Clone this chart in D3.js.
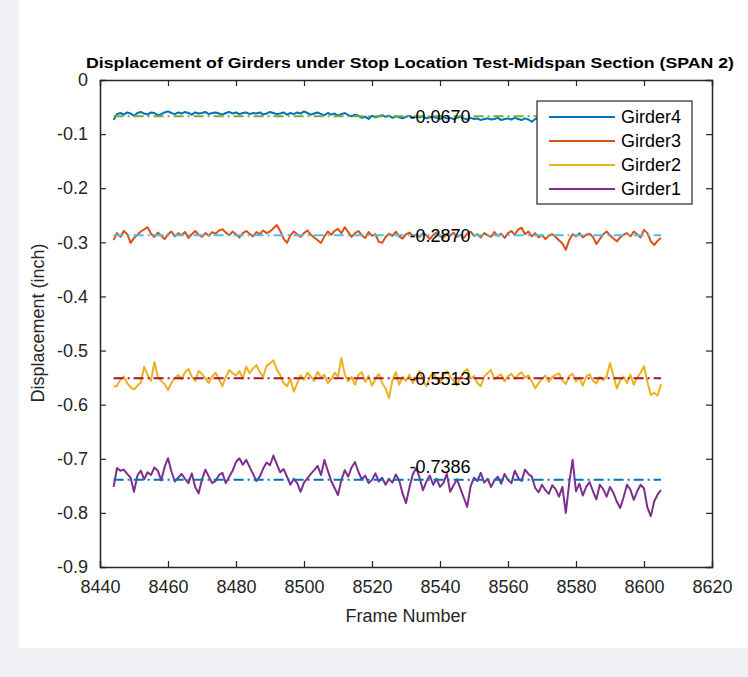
<!DOCTYPE html>
<html><head><meta charset="utf-8">
<script src="https://cdn.jsdelivr.net/npm/d3@7"></script>
<style>body{margin:0;background:#eff1f4;}svg{display:block;}</style>
</head><body>
<svg id="chart" width="748" height="677"></svg>
<script>
const startFrame = 8444;
const girder4 = [-0.074,-0.063,-0.061,-0.064,-0.060,-0.062,-0.066,-0.061,-0.059,-0.062,
-0.064,-0.060,-0.061,-0.065,-0.063,-0.060,-0.058,-0.061,-0.063,-0.060,
-0.062,-0.059,-0.061,-0.064,-0.060,-0.062,-0.061,-0.059,-0.063,-0.061,
-0.060,-0.062,-0.064,-0.061,-0.059,-0.062,-0.060,-0.063,-0.061,-0.060,
-0.063,-0.061,-0.062,-0.060,-0.064,-0.062,-0.059,-0.061,-0.063,-0.062,
-0.060,-0.064,-0.061,-0.063,-0.060,-0.062,-0.058,-0.061,-0.064,-0.062,
-0.060,-0.063,-0.065,-0.061,-0.064,-0.062,-0.066,-0.063,-0.061,-0.065,
-0.067,-0.064,-0.066,-0.070,-0.068,-0.072,-0.066,-0.069,-0.067,-0.065,
-0.068,-0.066,-0.070,-0.067,-0.069,-0.071,-0.068,-0.066,-0.070,-0.068,
-0.069,-0.067,-0.071,-0.069,-0.068,-0.070,-0.072,-0.069,-0.071,-0.070,
-0.072,-0.070,-0.068,-0.071,-0.073,-0.070,-0.072,-0.071,-0.074,-0.072,
-0.071,-0.073,-0.072,-0.070,-0.074,-0.072,-0.071,-0.073,-0.070,-0.072,
-0.074,-0.071,-0.073,-0.077,-0.072,-0.070,-0.073,-0.071,-0.072,-0.074,
-0.073,-0.071,-0.072,-0.074,-0.070,-0.073,-0.072,-0.071,-0.073,-0.072,
-0.071,-0.073,-0.072,-0.070,-0.072,-0.074,-0.071,-0.073,-0.072,-0.070,
-0.072,-0.073,-0.071,-0.074,-0.072,-0.070,-0.073,-0.071,-0.072,-0.073,
-0.071,-0.072];
const girder3 = [-0.296,-0.283,-0.290,-0.279,-0.285,-0.301,-0.292,-0.286,-0.280,-0.276,
-0.272,-0.284,-0.290,-0.282,-0.288,-0.294,-0.285,-0.280,-0.289,-0.283,
-0.287,-0.281,-0.292,-0.285,-0.279,-0.286,-0.290,-0.283,-0.288,-0.281,
-0.284,-0.278,-0.276,-0.282,-0.287,-0.280,-0.285,-0.291,-0.283,-0.279,
-0.284,-0.289,-0.281,-0.285,-0.278,-0.283,-0.280,-0.274,-0.268,-0.279,
-0.293,-0.301,-0.287,-0.280,-0.285,-0.290,-0.283,-0.278,-0.286,-0.291,
-0.296,-0.301,-0.289,-0.280,-0.286,-0.279,-0.275,-0.283,-0.272,-0.281,
-0.290,-0.283,-0.279,-0.287,-0.292,-0.281,-0.288,-0.285,-0.299,-0.301,
-0.290,-0.284,-0.288,-0.280,-0.289,-0.293,-0.285,-0.282,-0.288,-0.286,
-0.290,-0.283,-0.287,-0.294,-0.286,-0.282,-0.289,-0.291,-0.284,-0.288,
-0.282,-0.290,-0.286,-0.292,-0.284,-0.280,-0.288,-0.285,-0.291,-0.283,
-0.287,-0.290,-0.281,-0.288,-0.284,-0.292,-0.283,-0.279,-0.286,-0.276,
-0.273,-0.285,-0.280,-0.289,-0.283,-0.291,-0.286,-0.294,-0.288,-0.285,
-0.290,-0.296,-0.302,-0.314,-0.296,-0.285,-0.289,-0.283,-0.291,-0.286,
-0.284,-0.290,-0.303,-0.294,-0.285,-0.280,-0.287,-0.293,-0.298,-0.291,
-0.286,-0.283,-0.289,-0.280,-0.285,-0.291,-0.277,-0.283,-0.298,-0.305,
-0.297,-0.292];
const girder2 = [-0.567,-0.565,-0.554,-0.548,-0.560,-0.568,-0.572,-0.565,-0.559,-0.530,
-0.545,-0.556,-0.521,-0.548,-0.556,-0.562,-0.573,-0.560,-0.551,-0.545,
-0.553,-0.540,-0.534,-0.548,-0.556,-0.538,-0.543,-0.552,-0.560,-0.548,
-0.541,-0.553,-0.566,-0.549,-0.536,-0.542,-0.546,-0.538,-0.552,-0.530,
-0.542,-0.533,-0.527,-0.540,-0.548,-0.528,-0.524,-0.518,-0.535,-0.545,
-0.560,-0.566,-0.552,-0.576,-0.560,-0.546,-0.554,-0.541,-0.548,-0.556,
-0.539,-0.550,-0.545,-0.560,-0.553,-0.541,-0.548,-0.514,-0.544,-0.557,
-0.549,-0.563,-0.545,-0.540,-0.558,-0.547,-0.565,-0.552,-0.543,-0.560,
-0.570,-0.588,-0.555,-0.540,-0.563,-0.548,-0.556,-0.545,-0.560,-0.550,
-0.538,-0.555,-0.566,-0.549,-0.541,-0.552,-0.560,-0.546,-0.538,-0.548,
-0.556,-0.565,-0.550,-0.540,-0.534,-0.552,-0.547,-0.560,-0.566,-0.548,
-0.542,-0.536,-0.553,-0.548,-0.544,-0.557,-0.547,-0.543,-0.552,-0.545,
-0.540,-0.550,-0.546,-0.557,-0.570,-0.560,-0.552,-0.546,-0.558,-0.549,
-0.545,-0.542,-0.555,-0.562,-0.547,-0.543,-0.557,-0.550,-0.565,-0.548,
-0.544,-0.556,-0.561,-0.549,-0.555,-0.548,-0.523,-0.546,-0.570,-0.555,
-0.548,-0.560,-0.545,-0.563,-0.550,-0.541,-0.529,-0.558,-0.582,-0.578,
-0.583,-0.562];
const girder1 = [-0.752,-0.717,-0.722,-0.720,-0.728,-0.735,-0.761,-0.731,-0.722,-0.738,
-0.725,-0.730,-0.716,-0.722,-0.740,-0.715,-0.699,-0.723,-0.742,-0.735,
-0.728,-0.737,-0.745,-0.727,-0.752,-0.764,-0.738,-0.720,-0.733,-0.745,
-0.741,-0.730,-0.726,-0.745,-0.733,-0.722,-0.706,-0.699,-0.711,-0.702,
-0.715,-0.728,-0.741,-0.733,-0.718,-0.707,-0.712,-0.694,-0.710,-0.725,
-0.719,-0.733,-0.748,-0.737,-0.745,-0.761,-0.744,-0.736,-0.728,-0.721,
-0.713,-0.730,-0.702,-0.722,-0.741,-0.754,-0.767,-0.739,-0.721,-0.733,
-0.716,-0.706,-0.724,-0.738,-0.731,-0.745,-0.739,-0.727,-0.742,-0.735,
-0.748,-0.737,-0.744,-0.729,-0.740,-0.764,-0.782,-0.753,-0.729,-0.717,
-0.735,-0.758,-0.742,-0.731,-0.748,-0.737,-0.752,-0.745,-0.728,-0.761,
-0.749,-0.738,-0.755,-0.772,-0.789,-0.751,-0.735,-0.741,-0.726,-0.744,
-0.737,-0.752,-0.740,-0.733,-0.746,-0.728,-0.739,-0.745,-0.722,-0.735,
-0.741,-0.720,-0.728,-0.733,-0.754,-0.762,-0.748,-0.758,-0.765,-0.749,
-0.756,-0.770,-0.752,-0.800,-0.745,-0.702,-0.760,-0.746,-0.768,-0.752,
-0.743,-0.760,-0.775,-0.748,-0.756,-0.770,-0.752,-0.763,-0.779,-0.791,
-0.771,-0.748,-0.757,-0.776,-0.760,-0.748,-0.755,-0.790,-0.806,-0.779,
-0.766,-0.758];
const seriesNames = ["Girder4","Girder3","Girder2","Girder1"];
const seriesColors = ["#0072BD","#D95319","#EDB120","#7E2F8E"];
const meanValues = [-0.0670,-0.2870,-0.5513,-0.7386];
const meanLabels = ["-0.0670","-0.2870","-0.5513","-0.7386"];
const meanColors = ["#77AC30","#4DBEEE","#A2142F","#0072BD"];
const labelFrame = 8531;
const labelY = [-0.067,-0.287,-0.5513,-0.715];
const xTicks = [8440,8460,8480,8500,8520,8540,8560,8580,8600,8620];
const yTicks = [0,-0.1,-0.2,-0.3,-0.4,-0.5,-0.6,-0.7,-0.8,-0.9];
const yTickLabels = ["0","-0.1","-0.2","-0.3","-0.4","-0.5","-0.6","-0.7","-0.8","-0.9"];

const svg = d3.select("#chart");
svg.append("rect").attr("x",19).attr("y",0).attr("width",729).attr("height",648).attr("fill","#ffffff");

const L=100,R=712,T=80,B=567;
const x = d3.scaleLinear().domain([8440,8620]).range([L,R]);
const y = d3.scaleLinear().domain([-0.9,0]).range([B,T]);
const font = "'Liberation Sans', Arial, sans-serif";
const axisColor = "#262626";

const allSeries = [girder4,girder3,girder2,girder1];
const lineGen = d3.line().x((d,i)=>x(startFrame+i)).y(d=>y(d));
const endFrame = startFrame + girder1.length - 1;

const plot = svg.append("g");
allSeries.forEach((s,k)=>{
  plot.append("path").datum(s).attr("d",lineGen).attr("fill","none")
    .attr("stroke",seriesColors[k]).attr("stroke-width",2).attr("stroke-linejoin","round");
  plot.append("line").attr("x1",x(startFrame)).attr("x2",x(endFrame))
    .attr("y1",y(meanValues[k])).attr("y2",y(meanValues[k]))
    .attr("stroke",meanColors[k]).attr("stroke-width",2).attr("stroke-dasharray","10,4,2,4");
});
meanLabels.forEach((t,k)=>{
  plot.append("text").attr("x",x(labelFrame)).attr("y",y(labelY[k])).attr("dy","0.35em")
    .attr("font-family",font).attr("font-size",18).attr("fill","#000").text(t);
});

// axes
const gx = svg.append("g").attr("transform",`translate(0,${B})`)
  .call(d3.axisBottom(x).tickValues(xTicks).tickSize(-6).tickPadding(13).tickFormat(d3.format("d")));
const gxt = svg.append("g").attr("transform",`translate(0,${T})`)
  .call(d3.axisTop(x).tickValues(xTicks).tickSize(-6).tickFormat(""));
const gy = svg.append("g").attr("transform",`translate(${L},0)`)
  .call(d3.axisLeft(y).tickValues(yTicks).tickSize(-6).tickPadding(12).tickFormat((d,i)=>yTickLabels[i]));
const gyr = svg.append("g").attr("transform",`translate(${R},0)`)
  .call(d3.axisRight(y).tickValues(yTicks).tickSize(-6).tickFormat(""));
[gx,gxt,gy,gyr].forEach(g=>{
  g.select(".domain").attr("stroke",axisColor).attr("stroke-width",1.5);
  g.selectAll(".tick line").attr("stroke",axisColor).attr("stroke-width",1.2);
  g.selectAll("text").attr("font-family",font).attr("font-size",18).attr("fill","#262626");
});
gx.selectAll(".tick line").filter(d=>d===8440||d===8620).remove();
gxt.selectAll(".tick line").filter(d=>d===8440||d===8620).remove();
gy.selectAll(".tick line").filter(d=>d===0||d===-0.9).remove();
gyr.selectAll(".tick line").filter(d=>d===0||d===-0.9).remove();

// legend
const leg = svg.append("g");
leg.append("rect").attr("x",537).attr("y",101).attr("width",155).attr("height",103)
  .attr("fill","#fff").attr("stroke","#262626").attr("stroke-width",1.2);
const legY = [117,141,165,189];
seriesNames.forEach((n,k)=>{
  leg.append("line").attr("x1",549).attr("x2",615).attr("y1",legY[k]).attr("y2",legY[k])
    .attr("stroke",seriesColors[k]).attr("stroke-width",2);
  leg.append("text").attr("x",621).attr("y",legY[k]).attr("dy","0.35em")
    .attr("font-family",font).attr("font-size",18).attr("fill","#000").text(n);
});

// titles
svg.append("text").attr("x",410).attr("y",68).attr("text-anchor","middle")
  .attr("font-family",font).attr("font-weight","bold").attr("font-size",15)
  .attr("textLength",648).attr("lengthAdjust","spacingAndGlyphs").attr("fill","#000")
  .text("Displacement of Girders under Stop Location Test-Midspan Section (SPAN 2)");
svg.append("text").attr("x",406).attr("y",622).attr("text-anchor","middle")
  .attr("font-family",font).attr("font-size",18).attr("fill","#262626").text("Frame Number");
svg.append("text").attr("transform","translate(44,323) rotate(-90)").attr("text-anchor","middle")
  .attr("font-family",font).attr("font-size",18).attr("fill","#262626").text("Displacement (inch)");
</script>
</body></html>
